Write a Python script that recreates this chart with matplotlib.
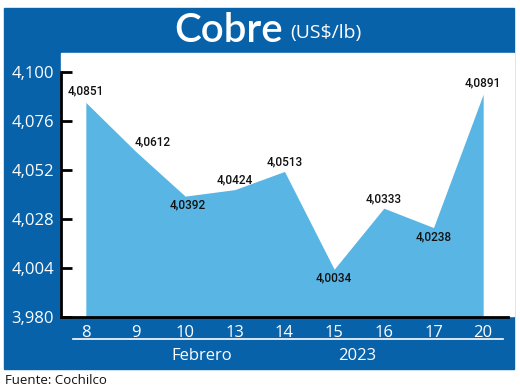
import matplotlib
matplotlib.use('Agg')
import matplotlib.pyplot as plt
from matplotlib.patches import Rectangle

# Datos: precio del cobre (US$/lb), febrero 2023
dias = ['8', '9', '10', '13', '14', '15', '16', '17', '20']
precios = [4.0851, 4.0612, 4.0392, 4.0424, 4.0513, 4.0034, 4.0333, 4.0238, 4.0891]
etiquetas = ['4,0851', '4,0612', '4,0392', '4,0424', '4,0513', '4,0034', '4,0333', '4,0238', '4,0891']
y_ticks = [3.980, 4.004, 4.028, 4.052, 4.076, 4.100]
y_tick_labels = ['3,980', '4,004', '4,028', '4,052', '4,076', '4,100']

# offsets de las etiquetas (puntos): (dx, dy)
offsets = [(0, 8), (12, 7), (2, -6), (0, 7), (0, 7), (0, -6), (0, 7), (0, -7), (0, 8)]

dark_blue = '#0862aa'
light_blue = '#59b5e4'

W, H = 520, 391
fig = plt.figure(figsize=(W / 100, H / 100), dpi=100)

def fx(px):
    return px / W

def fy(py):
    return 1 - py / H

# Marco azul y zona blanca
fig.patches.append(Rectangle((fx(4), fy(369)), fx(510), (369 - 8) / H,
                             transform=fig.transFigure, color=dark_blue, zorder=0))
fig.patches.append(Rectangle((fx(61), fy(316)), fx(514 - 61), (316 - 53) / H,
                             transform=fig.transFigure, color='white', zorder=1))

ax = fig.add_axes([fx(61), fy(317), fx(508 - 61), (317 - 72) / H])
ax.set_zorder(2)
ax.patch.set_alpha(0)
x = list(range(len(dias)))
ax.fill_between(x, precios, 3.98, color=light_blue, linewidth=0, zorder=2)
ax.set_xlim(-0.5, len(dias) - 0.5)
ax.set_ylim(3.98, 4.10)

for i, (v, lab) in enumerate(zip(precios, etiquetas)):
    dx, dy = offsets[i]
    ax.annotate(lab, (i, v), xytext=(dx, dy), textcoords='offset points',
                ha='center', va='center', fontsize=8.5, fontweight='medium',
                family=['Roboto', 'DejaVu Sans'], color='#111111')

ax.spines['top'].set_visible(False)
ax.spines['right'].set_visible(False)
ax.spines['left'].set_linewidth(2)
ax.spines['bottom'].set_linewidth(2)
ax.set_yticks(y_ticks)
ax.set_yticklabels(y_tick_labels)
ax.tick_params(axis='y', direction='in', length=8, width=2, pad=5,
               labelcolor='white', labelsize=12)
ax.set_xticks(x)
ax.set_xticklabels(dias)
ax.tick_params(axis='x', length=0, pad=6, labelcolor='white', labelsize=12)
for t in ax.get_xticklabels() + ax.get_yticklabels():
    t.set_family(['Open Sans', 'DejaVu Sans'])

# Línea blanca y subtítulos del eje x
fig.add_artist(plt.Line2D([fx(73), fx(503)], [fy(339), fy(339)],
                          color='white', linewidth=1.2, zorder=3))
fig.text(fx(202), fy(356), 'Febrero', color='white', fontsize=12,
         ha='center', va='center', family=['Open Sans', 'DejaVu Sans'])
fig.text(fx(357), fy(356), '2023', color='white', fontsize=12,
         ha='center', va='center', family=['Open Sans', 'DejaVu Sans'])

# Título
fig.text(fx(283), fy(31), 'Cobre', color='white', fontsize=29, fontweight='semibold',
         ha='right', va='center', family=['Lato', 'DejaVu Sans'])
fig.text(fx(290), fy(33), '(US$/lb)', color='white', fontsize=14,
         ha='left', va='center', family=['Open Sans', 'DejaVu Sans'])

# Fuente
fig.text(fx(5), fy(380), 'Fuente: Cochilco', color='#111111', fontsize=9.5,
         ha='left', va='center', family=['Open Sans', 'DejaVu Sans'])

fig.savefig('out.png', dpi=100)
